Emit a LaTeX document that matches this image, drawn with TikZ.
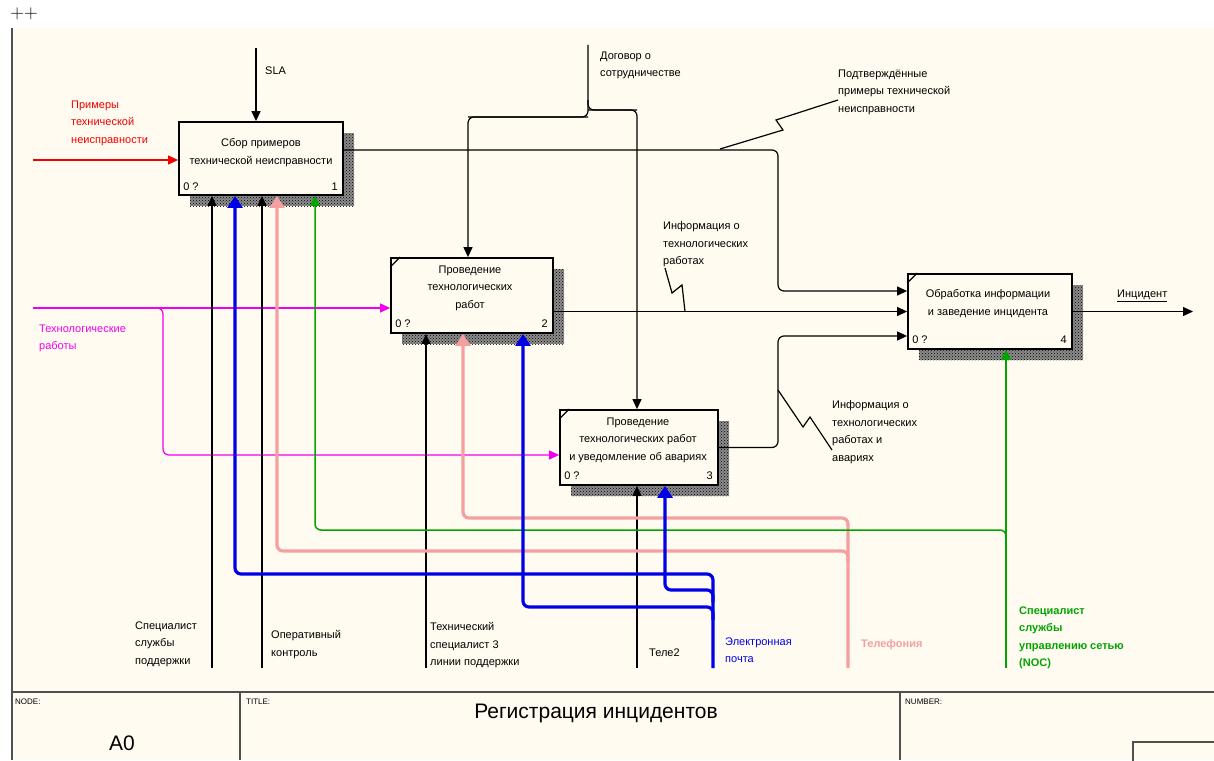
\documentclass[tikz,border=0pt]{standalone}
\usepackage{fontspec}
\newfontfamily\arial{Liberation Sans}
\usetikzlibrary{arrows.meta,calc,patterns}
\definecolor{bg}{RGB}{255,251,240}
\definecolor{ired}{RGB}{240,0,0}
\definecolor{imag}{RGB}{240,0,240}
\definecolor{iblue}{RGB}{0,0,230}
\definecolor{ipink}{RGB}{245,160,160}
\definecolor{igreen}{RGB}{0,165,0}
\definecolor{frame}{RGB}{80,80,80}
\begin{document}
\begin{tikzpicture}[x=1pt,y=-1pt,
  lbl/.style={font=\arial\fontsize{11}{17.5}\selectfont, inner sep=0pt, anchor=north west, align=left},
  boxtxt/.style={font=\arial\fontsize{11}{17.5}\selectfont, inner sep=0pt, anchor=north, align=center},
  num/.style={font=\arial\fontsize{11}{13}\selectfont, inner sep=0pt},
  small/.style={font=\arial\fontsize{8}{9}\selectfont, inner sep=0pt, anchor=west},
  act/.style={draw, line width=1.8pt, fill=bg, inner sep=0pt},
  shade/.style={pattern=crosshatch dots, pattern color=black},
  arr/.style={line width=1.2pt, -{Triangle[length=10pt,width=9pt]}},
  fatarr/.style={line width=3.2pt, -{Triangle[length=12pt,width=15pt]}},
  thinline/.style={line width=1.2pt},
  rc/.style={rounded corners=6pt}
]
\useasboundingbox (0,0) rectangle (1214,760);
\fill[white] (0,0) rectangle (1214,760);
\fill[bg] (12,28) rectangle (1214,760);
\node[font=\fontsize{19}{19}\selectfont, inner sep=0pt] (plus) at (24,14) {++};
\draw[line width=2.2pt, frame] (12,28) -- (12,760);
\draw[line width=1.3pt, frame] (12,692) -- (1214,692);
\draw[line width=1.3pt, frame] (240,692) -- (240,760);
\draw[line width=1.3pt, frame] (900,692) -- (900,760);
\draw[line width=1.3pt, frame] (1133,742) rectangle (1218,764);
\node[small] (nodelbl) at (15,702) {NODE:};
\node[small] (titlelbl) at (246,702) {TITLE:};
\node[small] (numlbl) at (905,702) {NUMBER:};
\node[font=\arial\fontsize{21}{22}\selectfont, inner sep=0pt] (title) at (596,713) {Регистрация инцидентов};
\node[font=\arial\fontsize{21}{22}\selectfont, inner sep=0pt] (a0) at (122,743) {A0};

% shadows
\foreach \ax/\ay/\bx/\by in {190/133/354/206, 402/269/564/344, 571/421/729/496, 919/285/1083/360}{
  \fill[black!45] (\ax,\ay) rectangle (\bx,\by);
  \fill[shade] (\ax,\ay) rectangle (\bx,\by);
}

% boxes
\node[act, minimum width=164pt, minimum height=73pt] (b1) at (261,158.5) {};
\node[act, minimum width=162pt, minimum height=75pt] (b2) at (472,295.5) {};
\node[act, minimum width=158pt, minimum height=75pt] (b3) at (639,447.5) {};
\node[act, minimum width=164pt, minimum height=75pt] (b4) at (990,311.5) {};
\foreach \b in {b2,b3,b4}{
  \draw[line width=1.2pt] ($(\b.north west)+(0,10)$) -- ($(\b.north west)+(10,0)$);
}
\node[boxtxt] (t1) at (261,138.5) {Сбор примеров\\технической неисправности};
\node[boxtxt] (t2) at (470,265.5) {Проведение\\технологических\\работ};
\node[boxtxt] (t3) at (638,417.5) {Проведение\\технологических работ\\и уведомление об авариях};
\node[boxtxt, font=\arial\fontsize{11}{18.5}\selectfont] (t4) at (988,289) {Обработка информации\\и заведение инцидента};
\node[num, anchor=west] (z1) at ($(b1.south west)+(5,-9)$) {0 ?};
\node[num, anchor=east] (n1) at ($(b1.south east)+(-6,-9)$) {1};
\node[num, anchor=west] (z2) at ($(b2.south west)+(5,-10)$) {0 ?};
\node[num, anchor=east] (n2) at ($(b2.south east)+(-6,-10)$) {2};
\node[num, anchor=west] (z3) at ($(b3.south west)+(5,-10)$) {0 ?};
\node[num, anchor=east] (n3) at ($(b3.south east)+(-6,-10)$) {3};
\node[num, anchor=west] (z4) at ($(b4.south west)+(5,-10)$) {0 ?};
\node[num, anchor=east] (n4) at ($(b4.south east)+(-6,-10)$) {4};

% coordinates
\coordinate (slaS) at (256,48);
\coordinate (redS) at (33,160);
\coordinate (c1) at (778,150);
\coordinate (c2) at (778,291);
\coordinate (c3) at (700,311.5);
\coordinate (c4) at (778,447.5);
\coordinate (c5) at (778,336);
\coordinate (outE) at (1193,311.5);
\coordinate (dogS) at (588,45);
\coordinate (dogM) at (588,100);
\coordinate (dogL) at (588,117);
\coordinate (dogL2) at (468,117);
\coordinate (dogR) at (588,110);
\coordinate (dogR2) at (637,110);
\coordinate (magS) at (33,308);
\coordinate (magJ) at (155,308);
\coordinate (magK) at (163,308);
\coordinate (magL) at (163,455);
\coordinate (k1) at (212,668);
\coordinate (k2) at (262,668);
\coordinate (k3) at (426,668);
\coordinate (k4) at (637,668);
\coordinate (blS) at (713,668);
\coordinate (bl1) at (713,574);
\coordinate (bl1b) at (235,574);
\coordinate (bl2a) at (713,602);
\coordinate (bl2) at (713,590);
\coordinate (bl2b) at (665,590);
\coordinate (bl3a) at (713,620);
\coordinate (bl3) at (713,607);
\coordinate (bl3b) at (523,607);
\coordinate (pkS) at (848,668);
\coordinate (pk1) at (848,518);
\coordinate (pk1b) at (463,518);
\coordinate (pk2a) at (848,562);
\coordinate (pk2) at (848,551);
\coordinate (pk2b) at (277,551);
\coordinate (grS) at (1006,668);
\coordinate (gr1a) at (1006,541);
\coordinate (gr1) at (1006,530);
\coordinate (gr1b) at (315,530);

% top / left arrows
\draw[arr] (slaS) -- (slaS |- b1.north);
\draw[arr, ired] (redS) -- (redS -| b1.west);
\draw[thinline, rc] (dogS) -- (dogL) -- (dogL2);
\draw[arr, rc] (dogL) -- (dogL2) -- (dogL2 |- b2.north);
\draw[thinline, rc] (dogM) -- (dogR) -- (dogR2);
\draw[arr, rc] (dogR) -- (dogR2) -- (dogR2 |- b3.north);
\draw[arr, imag] (magS) -- (magS -| b2.west);
\draw[arr, imag, rc] (magJ) -- (magK) -- (magL) -- (magL -| b3.west);

% outputs
\draw[arr, rc] (c1 -| b1.east) -- (c1) -- (c2) -- (c2 -| b4.west);
\draw[arr] (c3 -| b2.east) -- (c3 -| b4.west);
\draw[arr, rc] (b3.east) -- (c4) -- (c5) -- (c5 -| b4.west);
\draw[arr] (b4.east) -- (outE);

% bottom black
\draw[arr] (k1) -- (k1 |- b1.south);
\draw[arr] (k2) -- (k2 |- b1.south);
\draw[arr] (k3) -- (k3 |- b2.south);
\draw[arr] (k4) -- (k4 |- b3.south);

% pink
\draw[fatarr, ipink, rc] (pkS) -- (pk1) -- (pk1b) -- (pk1b |- b2.south);
\draw[fatarr, ipink, rc] (pk2a) -- (pk2) -- (pk2b) -- (pk2b |- b1.south);
% green
\draw[line width=1.5pt, igreen, -{Triangle[length=10pt,width=10pt]}] (grS) -- (grS |- b4.south);
\draw[line width=1.5pt, igreen, rc, -{Triangle[length=10pt,width=10pt]}] (gr1a) -- (gr1) -- (gr1b) -- (gr1b |- b1.south);
% blue
\draw[fatarr, iblue, rc] (blS) -- (bl1) -- (bl1b) -- (bl1b |- b1.south);
\draw[fatarr, iblue, rc] (bl2a) -- (bl2) -- (bl2b) -- (bl2b |- b3.south);
\draw[fatarr, iblue, rc] (bl3a) -- (bl3) -- (bl3b) -- (bl3b |- b2.south);

% squiggles
\coordinate (sq1a) at (720,149);
\coordinate (sq2a) at (685,311.5);
\coordinate (sq3a) at (778,390);
\draw[thinline] (sq1a) -- (783,130) -- (776,120) -- (838,100);
\draw[thinline] (sq2a) -- (682,285) -- (672,293) -- (665,268);
\draw[thinline] (sq3a) -- (803,427) -- (810,417) -- (832,450);

% labels
\node[lbl] (lsla) at (265,66.5) {SLA};
\node[lbl, text=ired] (lred) at (71,100.5) {Примеры\\технической\\неисправности};
\node[lbl] (lconf) at (838,69.5) {Подтверждённые\\примеры технической\\неисправности};
\node[lbl] (ldog) at (600,51.5) {Договор о\\сотрудничестве};
\node[lbl] (linf1) at (663,221.5) {Информация о\\технологических\\работах};
\node[lbl, text=imag] (ltech) at (39,324.5) {Технологические\\работы};
\node[lbl] (linf2) at (832,400.5) {Информация о\\технологических\\работах и\\авариях};
\node[lbl] (linc) at (1117,289.5) {\underline{Инцидент}};
\node[lbl] (lsp) at (135,621.5) {Специалист\\службы\\поддержки};
\node[lbl] (lop) at (271,630.5) {Оперативный\\контроль};
\node[lbl] (lts) at (430,622.5) {Технический\\специалист 3\\линии поддержки};
\node[lbl] (ltele) at (649,648.5) {Теле2};
\node[lbl, text=iblue] (lmail) at (725,637.5) {Электронная\\почта};
\node[lbl, text=ipink, font=\arial\bfseries\fontsize{11}{17.5}\selectfont] (lphone) at (861,639.5) {Телефония};
\node[lbl, text=igreen, font=\arial\bfseries\fontsize{11}{17.5}\selectfont] (lnoc) at (1019,606.5) {Специалист\\службы\\управлению сетью\\(NOC)};
\end{tikzpicture}
\end{document}
